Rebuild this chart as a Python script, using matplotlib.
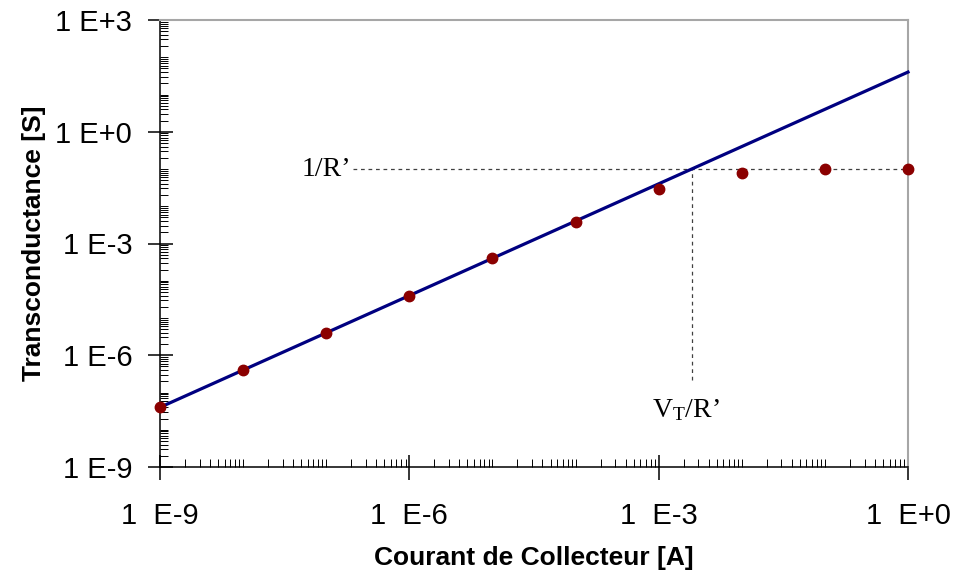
import numpy as np
import matplotlib
matplotlib.use("Agg")
import matplotlib.pyplot as plt
from matplotlib.ticker import FixedLocator, LogLocator, NullFormatter

plt.rcParams['font.family'] = ['Liberation Sans', 'DejaVu Sans']
plt.rcParams['mathtext.fontset'] = 'custom'
plt.rcParams['mathtext.rm'] = 'Liberation Serif'
plt.rcParams['mathtext.it'] = 'Liberation Serif:italic'

# Data
current = [1e-9, 1e-8, 1e-7, 1e-6, 1e-5, 1e-4, 1e-3, 1e-2, 1e-1, 1e0]
gm_points = [4e-8, 4e-7, 4e-6, 4e-5, 3.98e-4, 3.85e-3, 2.86e-2, 8.0e-2, 9.76e-2, 9.98e-2]
line_x = [1e-9, 1e0]
line_y = [4e-8, 4e1]
inv_R = 0.1
vt_over_R = 0.0025
guide_low = 2.1e-7

x_major = [1e-9, 1e-6, 1e-3, 1e0]
x_labels = ["1  E-9", "1  E-6", "1  E-3", "1  E+0"]
y_major = [1e-9, 1e-6, 1e-3, 1e0, 1e3]
y_labels = ["1 E-9", "1 E-6", "1 E-3", "1 E+0", "1 E+3"]

fig = plt.figure(figsize=(9.58, 5.72), dpi=100)
ax = fig.add_axes([160/958, 1-467/572, (908-160)/958, (467-20)/572])
ax.set_xscale('log')
ax.set_yscale('log')
ax.set_xlim(1e-9, 1e0)
ax.set_ylim(1e-9, 1e3)

# guide lines
ax.plot([guide_low, 1e0], [inv_R, inv_R], color='#404040', lw=0.9,
        dashes=(3, 3), zorder=2)
ax.plot([vt_over_R, vt_over_R], [guide_low, inv_R], color='#404040', lw=0.9,
        dashes=(3, 3), zorder=2)

ax.plot(line_x, line_y, color='#000080', lw=2.3, clip_on=False, zorder=3,
        solid_capstyle='projecting')
ax.plot(current, gm_points, 'o', color='#8B0000', markersize=7.5,
        clip_on=False, zorder=4)

ax.text(2.0e-7, inv_R, "1/R’", fontsize=20, family=['Liberation Serif'],
        ha='right', va='center')
ax.text(2.14e-3, 3.3e-8, r"V$_{\mathrm{T}}$/R’", fontsize=20,
        family=['Liberation Serif'], ha='center', va='center')

ax.xaxis.set_major_locator(FixedLocator(x_major))
ax.set_xticklabels(x_labels)
ax.yaxis.set_major_locator(FixedLocator(y_major))
ax.set_yticklabels(y_labels)
ax.xaxis.set_minor_locator(LogLocator(base=10, subs=np.arange(1, 10), numticks=50))
ax.yaxis.set_minor_locator(LogLocator(base=10, subs=np.arange(1, 10), numticks=50))
ax.xaxis.set_minor_formatter(NullFormatter())
ax.yaxis.set_minor_formatter(NullFormatter())

ax.tick_params(which='major', direction='inout', length=18, width=1.1,
               labelsize=21, color='black')
ax.tick_params(which='minor', direction='in', length=6, width=0.7, color='black')
ax.tick_params(axis='x', which='major', pad=16)
ax.tick_params(axis='y', which='major', pad=11)

for s in ['left', 'bottom']:
    ax.spines[s].set_color('black')
    ax.spines[s].set_linewidth(1.1)
for s in ['top', 'right']:
    ax.spines[s].set_color('#a6a6a6')
    ax.spines[s].set_linewidth(1.5)

ax.set_xlabel("Courant de Collecteur [A]", fontsize=19, fontweight='bold', labelpad=12)
ax.set_ylabel("Transconductance [S]", fontsize=19, fontweight='bold', labelpad=7)

fig.savefig("out.png", dpi=100)
